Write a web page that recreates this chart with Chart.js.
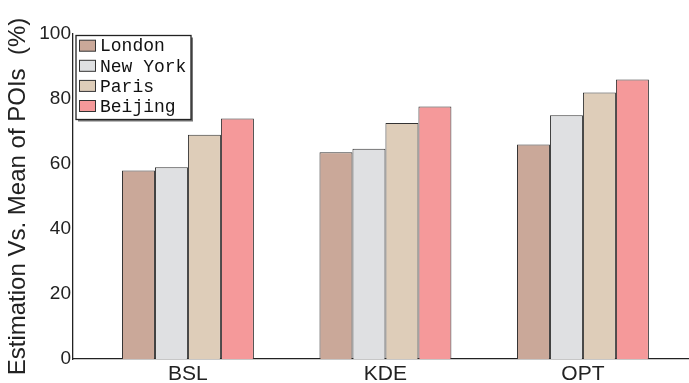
<!DOCTYPE html>
<html>
<head>
<meta charset="utf-8">
<title>Estimation vs. mean of POIs</title>
<script src="https://cdn.jsdelivr.net/npm/chart.js@4.4.0/dist/chart.umd.min.js"></script>
<style>
  html, body { margin: 0; padding: 0; background: #fff; }
  #wrap { width: 689px; height: 383px; }
</style>
</head>
<body>
<div id="wrap"><canvas id="myChart" width="689" height="383"></canvas></div>
<script>
// methods on the x axis, one group of bars each
var categories = ['BSL', 'KDE', 'OPT'];
var cities = ['London', 'New York', 'Paris', 'Beijing'];

// percent per method, one array per city
var london  = [58.0, 63.6, 66.0];
var newYork = [59.0, 64.7, 75.0];
var paris   = [69.0, 72.6, 82.0];
var beijing = [74.0, 77.7, 86.0];

var yTicks = [0, 20, 40, 60, 80, 100];

var colors = ['#caa899', '#dfe0e2', '#decdb9', '#f5999a'];
var series = [london, newYork, paris, beijing];

var datasets = series.map(function(vals, k) {
  return {
    label: cities[k],
    data: vals.map(function(v, i) { return {x: i, y: v}; }),
    backgroundColor: colors[k],
    borderColor: '#333',
    borderWidth: 1,
    borderSkipped: 'bottom',
    categoryPercentage: 0.668,
    barPercentage: 1
  };
});

// boxed legend in the top-left corner of the plot
var boxLegend = {
  id: 'boxLegend',
  afterDraw: function(chart) {
    var c = chart.ctx;
    var x0 = 76, y0 = 35.5, w = 115, h = 84;
    c.save();
    // shadow
    c.fillStyle = '#777';
    c.fillRect(x0 + 2, y0 + 2, w, h);
    c.fillStyle = '#fff';
    c.fillRect(x0, y0, w, h);
    c.strokeStyle = '#222';
    c.lineWidth = 1.3;
    c.strokeRect(x0, y0, w, h);
    c.font = '18px "Liberation Mono", "Courier New", monospace';
    c.textBaseline = 'middle';
    chart.data.datasets.forEach(function(ds, k) {
      var cy = 45.7 + k * 20.1;
      c.fillStyle = ds.backgroundColor;
      c.fillRect(79, cy - 5.5, 16.5, 11);
      c.strokeStyle = '#333';
      c.lineWidth = 1;
      c.strokeRect(79.5, cy - 5.5, 16, 11);
      c.fillStyle = '#111';
      c.fillText(ds.label, 100, cy + 1);
    });
    c.restore();
  }
};

var ctx = document.getElementById('myChart').getContext('2d');
var myChart = new Chart(ctx, {
  type: 'bar',
  data: { datasets: datasets },
  plugins: [boxLegend],
  options: {
    responsive: false,
    animation: false,
    layout: { padding: { top: 34, right: 0, bottom: 0, left: 0 } },
    plugins: {
      legend: { display: false },
      tooltip: { enabled: false }
    },
    scales: {
      x: {
        type: 'linear',
        offset: false,
        min: -0.582,
        max: 2.537,
        afterBuildTicks: function(scale) {
          scale.ticks = categories.map(function(c, i) { return {value: i}; });
        },
        afterFit: function(scale) { scale.height = 24; },
        grid: { display: false, drawTicks: false, offset: false },
        border: { display: true, color: '#222', width: 1.3 },
        ticks: {
          autoSkip: false,
          maxRotation: 0,
          padding: 3,
          color: '#222',
          font: { family: '"Liberation Sans", Arial, sans-serif', size: 21 },
          callback: function(v) { return categories[v]; }
        }
      },
      y: {
        min: 0,
        max: 100,
        afterBuildTicks: function(scale) {
          scale.ticks = yTicks.map(function(v) { return {value: v}; });
        },
        afterFit: function(scale) { scale.width = 73; },
        grid: { display: false, drawTicks: false },
        border: { display: true, color: '#222', width: 1.3 },
        ticks: {
          padding: 2,
          color: '#222',
          font: { family: '"Liberation Sans", Arial, sans-serif', size: 19 }
        },
        title: {
          display: true,
          text: 'Estimation Vs. Mean of POIs  (%)',
          color: '#222',
          padding: { top: 4, bottom: 0 },
          font: { family: '"Liberation Sans", Arial, sans-serif', size: 24 }
        }
      }
    }
  }
});
</script>
</body>
</html>
